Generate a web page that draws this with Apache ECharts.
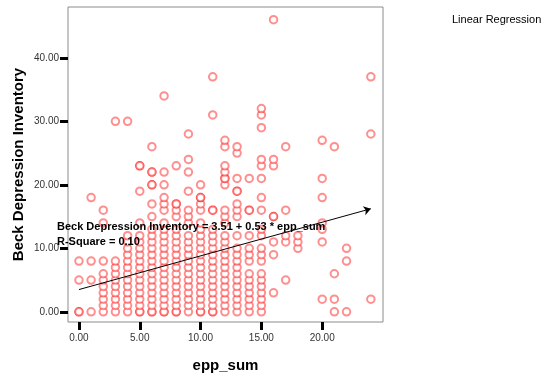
<!DOCTYPE html>
<html>
<head>
<meta charset="utf-8">
<script src="https://cdn.jsdelivr.net/npm/echarts@6/dist/echarts.min.js"></script>
<style>
  html, body { margin: 0; padding: 0; background: #fff; }
  #chart { width: 544px; height: 378px; }
</style>
</head>
<body>
<div id="chart"></div>
<script>
// epp_sum values that have observations, and the Beck scores seen at each one
const eppSum = [0, 1, 2, 3, 4, 5, 6, 7, 8, 9, 10, 11, 12, 13, 14, 15, 16, 17, 18, 20, 21, 22, 24];
const beckByEpp = [
  [0, 0, 5, 8],
  [0, 5, 8, 18],
  [0, 1, 2, 3, 4, 5, 6, 8, 14, 16],
  [0, 1, 2, 3, 4, 5, 6, 7, 8, 30],
  [0, 1, 2, 3, 4, 5, 6, 7, 8, 9, 10, 11, 12, 30],
  [0, 0, 1, 2, 3, 4, 5, 6, 7, 8, 9, 10, 11, 12, 14, 19, 23, 23],
  [0, 0, 1, 2, 3, 4, 5, 6, 7, 8, 9, 10, 11, 12, 13, 15, 17, 20, 20, 22, 22, 26],
  [0, 0, 1, 2, 3, 4, 5, 6, 7, 8, 9, 10, 11, 12, 13, 14, 16, 17, 18, 20, 22, 34],
  [0, 0, 1, 2, 3, 4, 5, 6, 7, 8, 9, 10, 11, 12, 13, 15, 16, 17, 17, 23],
  [0, 1, 2, 3, 4, 5, 6, 7, 8, 9, 10, 11, 12, 14, 15, 16, 19, 22, 24, 28],
  [0, 0, 1, 2, 3, 4, 5, 6, 7, 8, 9, 10, 11, 12, 13, 14, 16, 17, 18, 18, 20],
  [0, 0, 1, 2, 3, 4, 5, 6, 7, 8, 9, 10, 11, 12, 13, 16, 16, 31, 37],
  [0, 1, 2, 3, 4, 5, 6, 7, 8, 9, 10, 11, 12, 14, 15, 16, 20, 21, 21, 22, 23, 26, 27],
  [0, 1, 2, 3, 4, 5, 6, 7, 8, 9, 10, 12, 15, 16, 17, 19, 19, 21, 25, 26],
  [0, 1, 2, 3, 4, 5, 6, 8, 9, 10, 12, 16, 16, 21],
  [0, 1, 2, 3, 4, 5, 6, 8, 9, 10, 12, 13, 16, 18, 21, 23, 24, 29, 31, 32],
  [3, 9, 11, 15, 15, 23, 24, 46],
  [5, 11, 12, 16, 26],
  [10, 11, 12],
  [2, 11, 13, 14, 18, 21, 27],
  [0, 2, 6, 26],
  [0, 8, 10],
  [2, 28, 37]
];
const xTicks = [0, 5, 10, 15, 20];
const yTicks = [0, 10, 20, 30, 40];

// fitted line
const intercept = 3.51;
const slope = 0.53;
const rSquare = 0.10;
const fitRange = [0, 24];

const points = [];
eppSum.forEach((x, i) => {
  beckByEpp[i].forEach(y => points.push([x, y]));
});

const fitAt = x => intercept + slope * x;
const fmt = v => v.toFixed(2);

const chart = echarts.init(document.getElementById('chart'));
const font = 'Liberation Sans, Arial, sans-serif';

chart.setOption({
  animation: false,
  backgroundColor: '#fff',
  textStyle: { fontFamily: font },
  grid: {
    left: 68, top: 7, right: 161, bottom: 55,
    show: true,
    borderColor: '#8c8c8c',
    borderWidth: 1,
    backgroundColor: '#fff'
  },
  xAxis: {
    type: 'value',
    min: -0.9,
    max: 25,
    name: 'epp_sum',
    nameLocation: 'middle',
    nameGap: 36,
    nameMoveOverlap: false,
    nameTextStyle: { fontSize: 15, fontWeight: 'bold', color: '#000', fontFamily: font },
    axisLine: { show: false, onZero: false },
    splitLine: { show: false },
    axisTick: {
      show: true, inside: false, length: 8,
      lineStyle: { color: '#000', width: 3 },
      customValues: xTicks
    },
    axisLabel: {
      margin: 11,
      fontSize: 10,
      color: '#333',
      fontFamily: font,
      customValues: xTicks,
      formatter: fmt
    }
  },
  yAxis: {
    type: 'value',
    min: -1.6,
    max: 48,
    name: 'Beck Depression Inventory',
    nameLocation: 'middle',
    nameGap: 42,
    nameMoveOverlap: false,
    nameTextStyle: { fontSize: 15, fontWeight: 'bold', color: '#000', fontFamily: font },
    axisLine: { show: false, onZero: false },
    splitLine: { show: false },
    axisTick: {
      show: true, inside: false, length: 8,
      lineStyle: { color: '#000', width: 3 },
      customValues: yTicks
    },
    axisLabel: {
      margin: 9,
      fontSize: 10,
      color: '#333',
      fontFamily: font,
      customValues: yTicks,
      formatter: fmt
    }
  },
  series: [{
    type: 'scatter',
    data: points,
    symbol: 'emptyCircle',
    symbolSize: 7.5,
    itemStyle: { color: 'rgba(255,0,0,0.55)', borderColor: 'rgba(255,0,0,0.55)', borderWidth: 1 },
    markLine: {
      silent: true,
      symbol: ['none', 'arrow'],
      symbolSize: 7,
      label: { show: false },
      lineStyle: { color: '#000', width: 1, type: 'solid' },
      data: [[
        { coord: [fitRange[0], fitAt(fitRange[0])] },
        { coord: [fitRange[1], fitAt(fitRange[1])] }
      ]]
    }
  }],
  graphic: [
    {
      type: 'text', left: 57, top: 221, z: 10,
      style: {
        text: 'Beck Depression Inventory = ' + intercept.toFixed(2) + ' + ' + slope.toFixed(2) + ' * epp_sum',
        font: 'bold 11px ' + font, fill: '#000'
      }
    },
    {
      type: 'text', left: 57, top: 236, z: 10,
      style: {
        text: 'R-Square = ' + rSquare.toFixed(2),
        font: 'bold 11px ' + font, fill: '#000'
      }
    },
    {
      type: 'text', left: 452, top: 14,
      style: { text: 'Linear Regression', font: '11px ' + font, fill: '#000' }
    }
  ]
});
</script>
</body>
</html>
